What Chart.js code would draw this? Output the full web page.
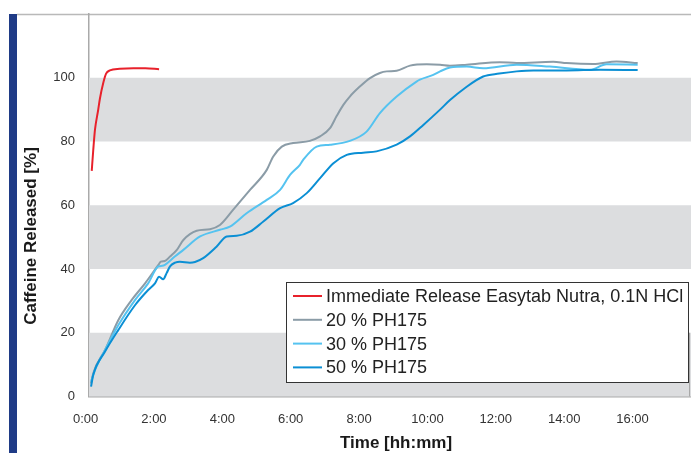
<!DOCTYPE html>
<html>
<head>
<meta charset="utf-8">
<script src="https://cdn.jsdelivr.net/npm/chart.js@4.4.1/dist/chart.umd.min.js"></script>
<style>
  html, body { margin: 0; padding: 0; background: #fff; }
  #wrap { position: relative; width: 691px; height: 453px; }
</style>
</head>
<body>
<div id="wrap"><canvas id="chart" width="691" height="453"></canvas></div>
<script>
// dissolution profiles: [time in hours, % released]
const irNutra = [[0.18, 70.8], [0.225, 77.4], [0.275, 83.7], [0.37, 90], [0.42, 93.5], [0.52, 98.5],
  [0.6, 101.3], [0.71, 102.3], [1.0, 102.8], [1.4, 103], [1.75, 103], [2.15, 102.7]]

const ph20 = [[0.16, 4.1], [0.225, 7.3], [0.57, 14.6], [0.96, 24], [1.35, 30.3], [1.74, 35.5], [2.13, 41.3],
  [2.2, 42.3], [2.32, 42.5], [2.47, 43.9], [2.67, 46], [2.86, 49.1], [3.25, 52], [3.64, 52.5], [3.93, 53.8],
  [4.32, 58.6], [4.81, 64.8], [5.3, 71.1], [5.49, 75.3], [5.74, 78.4], [6.07, 79.5], [6.56, 80.2],
  [6.86, 81.6], [7.15, 84.2], [7.34, 87.9], [7.54, 91.5], [7.73, 94.1], [8.03, 97.3], [8.32, 99.9],
  [8.61, 101.5], [8.81, 102], [9.1, 102.2], [9.49, 103.8], [9.98, 104.2], [10.37, 104.1], [10.66, 103.8],
  [11.15, 104.1], [12.12, 104.9], [12.61, 104.6], [13.68, 105], [14.07, 104.6], [14.85, 104.3],
  [15.53, 105.1], [16.15, 104.6]]

const ph30 = [[0.16, 4.6], [0.275, 8.3], [0.57, 14.6], [0.96, 22.4], [1.45, 30.3], [1.83, 35.5], [2.13, 40.8],
  [2.24, 41], [2.32, 41.3], [2.61, 43.9], [2.86, 46], [3.35, 50.2], [3.93, 52.3], [4.22, 53.3], [4.71, 57.5],
  [5.3, 61.7], [5.69, 64.8], [5.98, 69.5], [6.27, 72.7], [6.37, 74.3], [6.76, 78.4], [7.15, 79], [7.73, 80.2],
  [8.22, 83.1], [8.61, 88.9], [9.1, 94.1], [9.68, 98.8], [9.78, 99.4], [10.17, 100.9], [10.37, 102],
  [10.66, 103.2], [11.15, 103.5], [11.63, 103], [12.61, 104.1], [13.58, 103.5], [14.75, 102.5],
  [15.24, 104.2], [16.15, 104.1]]

const ph50 = [[0.16, 3.1], [0.225, 6.8], [0.57, 14.1], [0.96, 20.9], [1.45, 28.7], [1.83, 33.4], [2.03, 35.5],
  [2.15, 37.6], [2.27, 36.8], [2.37, 38.7], [2.47, 40.8], [2.62, 42], [2.76, 42.3], [3.05, 42], [3.2, 42.2],
  [3.44, 43.4], [3.83, 47], [4.13, 50.2], [4.42, 50.4], [4.81, 51.7], [5.2, 54.9], [5.69, 59.1], [6.07, 60.7],
  [6.47, 63.8], [6.86, 68.5], [7.25, 73.2], [7.64, 75.8], [8.12, 76.5], [8.51, 76.9], [9.1, 79], [9.49, 81.6],
  [9.88, 85.2], [10.37, 90], [10.66, 93], [11.1, 96.8], [11.63, 100.4], [12.1, 101.3], [12.61, 102],
  [13.1, 102.3], [14.07, 102.3], [15.05, 102.5], [16.15, 102.4]]

const seriesLabels = ['Immediate Release Easytab Nutra, 0.1N HCl', '20 % PH175', '30 % PH175', '50 % PH175']
const seriesColors = ['#e8212b', '#8b9ca7', '#55c3f0', '#0b8fd4']
const xTicks = [0, 2, 4, 6, 8, 10, 12, 14, 16]
const bands = [[0, 20], [40, 60], [80, 100]]

const toPoints = arr => arr.map(([x, y]) => ({ x, y }))

// gray horizontal bands behind the curves
const bandPlugin = {
  id: 'bands',
  beforeDatasetsDraw (chart) {
    const { ctx, chartArea: { left, right } } = chart
    const y = chart.scales.y
    ctx.save()
    ctx.fillStyle = '#dcdddf'
    bands.forEach(([a, b]) => {
      const y1 = y.getPixelForValue(b)
      const y2 = y.getPixelForValue(a)
      ctx.fillRect(left, y1, right - left, y2 - y1)
    })
    // stray right edge of the lowest band, as in the source picture
    ctx.strokeStyle = '#a8a8a8'
    ctx.lineWidth = 1
    ctx.beginPath()
    ctx.moveTo(right - 1.5, y.getPixelForValue(20))
    ctx.lineTo(right - 1.5, y.getPixelForValue(0))
    ctx.stroke()
    ctx.restore()
  }
}

// frame, axis titles and boxed legend inside the plot
const decorPlugin = {
  id: 'decor',
  beforeDraw (chart) {
    const { ctx, width, height } = chart
    ctx.save()
    ctx.fillStyle = '#1f3b86'
    ctx.fillRect(9, 14, 8, height - 14)
    ctx.strokeStyle = '#b9b9b9'
    ctx.lineWidth = 1.5
    ctx.beginPath()
    ctx.moveTo(17, 14.5)
    ctx.lineTo(width, 14.5)
    ctx.stroke()
    ctx.restore()
  },
  afterDraw (chart) {
    const { ctx } = chart
    ctx.save()
    ctx.fillStyle = '#1a1a1a'
    ctx.font = 'bold 17px "Liberation Sans", Arial, sans-serif'
    ctx.textAlign = 'center'
    ctx.textBaseline = 'middle'
    ctx.fillText('Time [hh:mm]', 396, 443)
    ctx.translate(31, 236)
    ctx.rotate(-Math.PI / 2)
    ctx.fillText('Caffeine Released [%]', 0, 0)
    ctx.restore()

    // legend
    const bx = 286, by = 282, bw = 402, bh = 100
    ctx.save()
    ctx.fillStyle = '#fff'
    ctx.fillRect(bx, by, bw, bh)
    ctx.strokeStyle = '#333'
    ctx.lineWidth = 1
    ctx.strokeRect(bx + 0.5, by + 0.5, bw, bh)
    ctx.font = '18px "Liberation Sans", Arial, sans-serif'
    ctx.textBaseline = 'middle'
    seriesLabels.forEach((label, i) => {
      const cy = 296 + i * 23.8
      ctx.strokeStyle = seriesColors[i]
      ctx.lineWidth = 2
      ctx.beginPath()
      ctx.moveTo(293, cy)
      ctx.lineTo(322, cy)
      ctx.stroke()
      ctx.fillStyle = '#222'
      ctx.fillText(label, 326, cy + 1)
    })
    ctx.restore()
  }
}

const datasets = [irNutra, ph20, ph30, ph50].map((arr, i) => ({
  label: seriesLabels[i],
  data: toPoints(arr),
  borderColor: seriesColors[i],
  backgroundColor: seriesColors[i],
  borderWidth: 2,
  pointRadius: 0,
  showLine: true,
  tension: 0.4,
  cubicInterpolationMode: 'monotone'
})).reverse()

new Chart(document.getElementById('chart'), {
  type: 'scatter',
  data: { datasets },
  options: {
    responsive: false,
    animation: false,
    layout: { padding: { left: 17, top: 14, right: 0, bottom: 0 } },
    plugins: { legend: { display: false }, tooltip: { enabled: false } },
    scales: {
      x: {
        type: 'linear',
        min: 0.1,
        max: 17.71,
        afterBuildTicks: s => { s.ticks = xTicks.map(v => ({ value: v })) },
        afterFit: s => { s.height = 56.5; s.paddingLeft = 0; s.paddingRight = 0 },
        grid: { display: false, drawTicks: false },
        border: { color: '#aaa', width: 1.5 },
        ticks: {
          padding: 15,
          color: '#333',
          font: { size: 13, family: '"Liberation Sans", Arial, sans-serif' },
          maxRotation: 0,
          autoSkip: false,
          callback: v => v + ':00'
        }
      },
      y: {
        min: 0,
        max: 120,
        afterFit: s => { s.width = 72; s.paddingTop = 0; s.paddingBottom = 0 },
        grid: { display: false, drawTicks: false },
        border: { color: '#aaa', width: 1.5 },
        ticks: {
          stepSize: 20,
          padding: 14,
          color: '#333',
          font: { size: 13, family: '"Liberation Sans", Arial, sans-serif' },
          callback: v => (v > 100 ? '' : v)
        }
      }
    }
  },
  plugins: [bandPlugin, decorPlugin]
})
</script>
</body>
</html>
